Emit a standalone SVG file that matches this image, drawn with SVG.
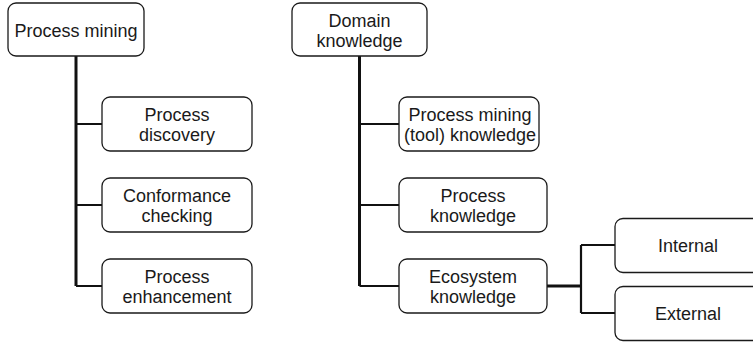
<svg xmlns="http://www.w3.org/2000/svg" width="753" height="343" viewBox="0 0 753 343">
  <style>
    .box { fill: #ffffff; stroke: #1a1a1a; stroke-width: 1.3; }
    .lbl { font-family: "Liberation Sans", Arial, Helvetica, sans-serif; font-size: 18px; fill: #1a1a1a; text-anchor: middle; }
    .trunk { fill: none; stroke: #111111; stroke-width: 3; }
    .branch { fill: none; stroke: #111111; stroke-width: 2.2; }
  </style>
  <rect width="753" height="343" fill="#ffffff"/>

  <g id="connectors">
    <!-- Process mining tree -->
    <path class="trunk" d="M76 56 V286"/>
    <path class="branch" d="M76 124 H102 M76 205 H102 M76 286 H102"/>
    <!-- Domain knowledge tree -->
    <path class="trunk" d="M359.5 56 V286"/>
    <path class="branch" d="M359.5 124 H399 M359.5 205 H399 M359.5 286 H399"/>
    <!-- Ecosystem knowledge split -->
    <path class="trunk" d="M547 286 H581"/>
    <path class="branch" d="M581 245 V313 M581 245 H615 M581 313 H615"/>
  </g>

  <g id="process-mining">
    <rect class="box" x="8" y="3" width="136" height="53" rx="8"/>
    <text class="lbl" x="76" y="36.5">Process mining</text>
  </g>
  <g id="process-discovery">
    <rect class="box" x="102" y="97" width="150" height="54" rx="8"/>
    <text class="lbl" x="177" y="121">Process</text>
    <text class="lbl" x="177" y="141">discovery</text>
  </g>
  <g id="conformance-checking">
    <rect class="box" x="102" y="178" width="150" height="54" rx="8"/>
    <text class="lbl" x="177" y="202">Conformance</text>
    <text class="lbl" x="177" y="222">checking</text>
  </g>
  <g id="process-enhancement">
    <rect class="box" x="102" y="259" width="150" height="54" rx="8"/>
    <text class="lbl" x="177" y="283">Process</text>
    <text class="lbl" x="177" y="303">enhancement</text>
  </g>

  <g id="domain-knowledge">
    <rect class="box" x="292" y="3" width="135" height="53" rx="8"/>
    <text class="lbl" x="359.5" y="27">Domain</text>
    <text class="lbl" x="359.5" y="47">knowledge</text>
  </g>
  <g id="tool-knowledge">
    <rect class="box" x="399" y="97" width="140" height="54" rx="8"/>
    <text class="lbl" x="470" y="121">Process mining</text>
    <text class="lbl" x="470" y="141">(tool) knowledge</text>
  </g>
  <g id="process-knowledge">
    <rect class="box" x="399" y="178" width="148" height="54" rx="8"/>
    <text class="lbl" x="473" y="202">Process</text>
    <text class="lbl" x="473" y="222">knowledge</text>
  </g>
  <g id="ecosystem-knowledge">
    <rect class="box" x="399" y="259" width="148" height="54" rx="8"/>
    <text class="lbl" x="473" y="283">Ecosystem</text>
    <text class="lbl" x="473" y="303">knowledge</text>
  </g>

  <g id="internal">
    <rect class="box" x="615" y="218.5" width="146" height="54" rx="8"/>
    <text class="lbl" x="688" y="252">Internal</text>
  </g>
  <g id="external">
    <rect class="box" x="615" y="286.5" width="146" height="54" rx="8"/>
    <text class="lbl" x="688" y="320">External</text>
  </g>
</svg>
